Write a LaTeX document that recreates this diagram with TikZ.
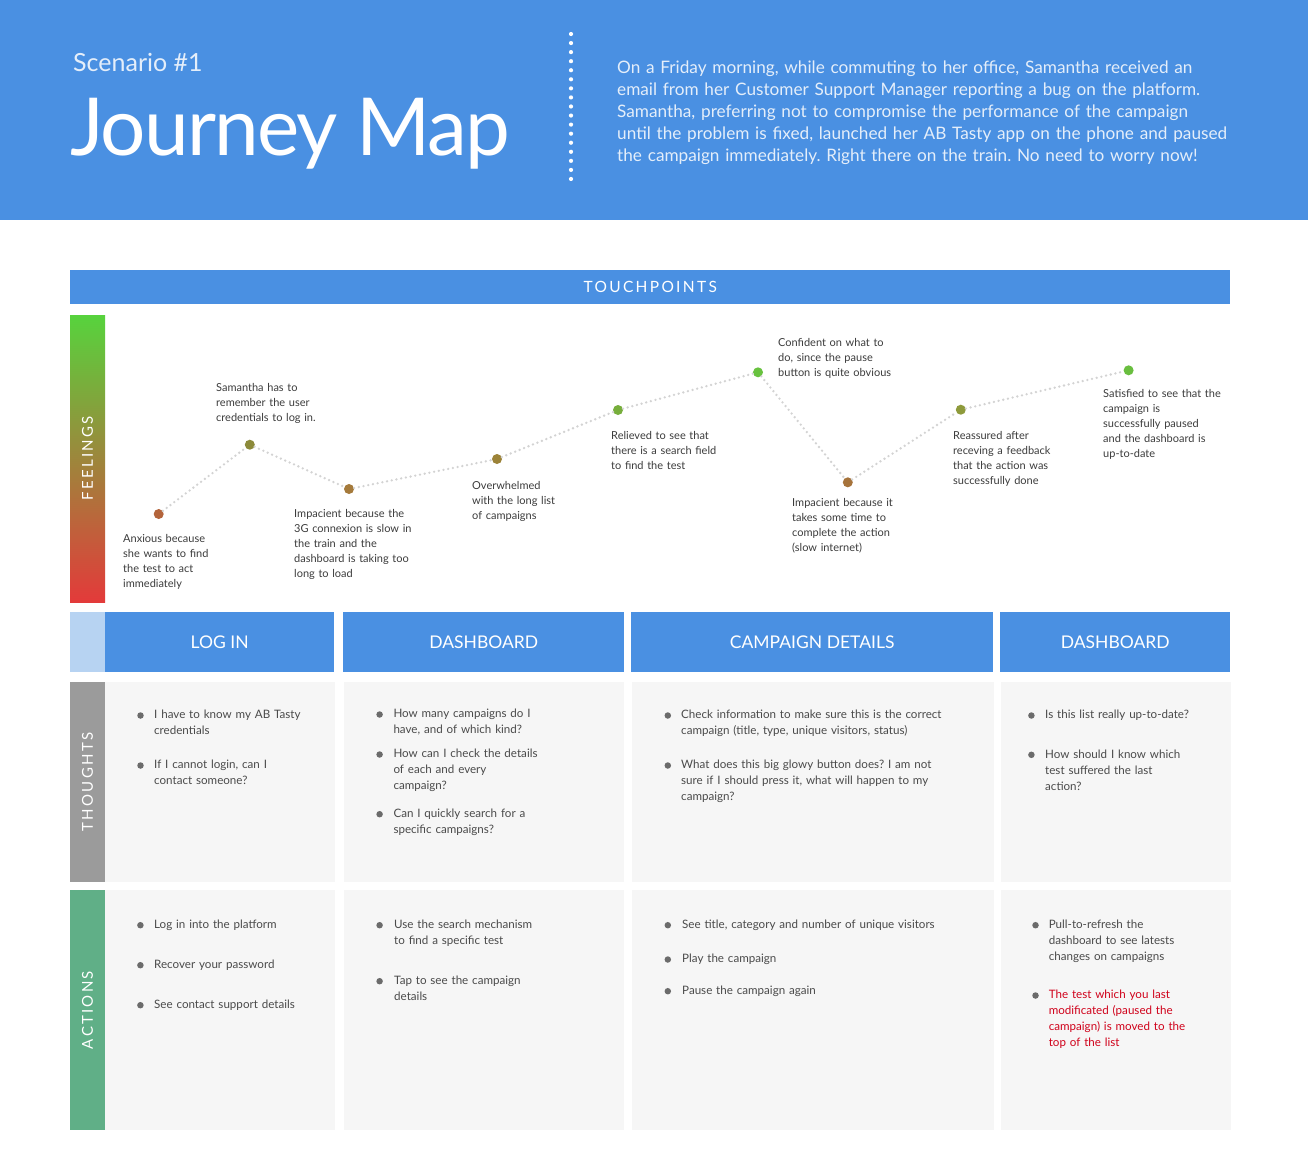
\documentclass[tikz,border=0pt]{standalone}
\usepackage{fontspec}
\setmainfont{Lato}
\newfontfamily\widelato[LetterSpace=15]{Lato}
\newfontfamily\tightlato[LetterSpace=-2.3]{Lato}

\definecolor{brandblue}{HTML}{4A90E2}
\definecolor{paleblue}{HTML}{B7D3F2}
\definecolor{cellbg}{HTML}{F6F6F6}
\definecolor{thoughtbar}{HTML}{9B9B9B}
\definecolor{actionbar}{HTML}{60AF87}
\definecolor{bodytext}{HTML}{4A4A4A}
\definecolor{feeltext}{HTML}{3C3C3C}
\definecolor{alerttext}{HTML}{D0021B}
\definecolor{introtext}{HTML}{E4EEFA}
\definecolor{pathgray}{HTML}{D3D3D3}
\definecolor{bulletgray}{HTML}{6B6B6B}
\definecolor{moodtop}{HTML}{57D33D}
\definecolor{moodmid}{HTML}{9A8336}
\definecolor{moodlow}{HTML}{E33A3A}
\definecolor{moodA}{HTML}{B3643B}
\definecolor{moodB}{HTML}{8C8A3A}
\definecolor{moodC}{HTML}{A57A3B}
\definecolor{moodD}{HTML}{9C8338}
\definecolor{moodE}{HTML}{77AE3C}
\definecolor{moodF}{HTML}{68C23F}
\definecolor{moodG}{HTML}{A6733B}
\definecolor{moodH}{HTML}{8E9A3B}
\definecolor{moodI}{HTML}{69BE3F}

\tikzset{
  colhead/.style={fill=brandblue, text=white, inner sep=0pt, anchor=north west,
    minimum height=60pt, font=\fontsize{17.5}{18}\selectfont},
  cell/.style={fill=cellbg, inner sep=0pt, anchor=north west},
  rowtag/.style={inner sep=0pt, anchor=north west, minimum width=35pt},
  tagtext/.style={text=white, rotate=90, inner sep=0pt, font=\widelato\fontsize{15}{15}\selectfont},
  mood/.style={circle, inner sep=0pt, minimum size=10pt},
  moodpath/.style={draw=pathgray, line width=2.6pt, line cap=round, dash pattern=on 0pt off 4.8pt},
  feel/.style={anchor=base west, inner sep=0pt, text width=140pt, align=left,
    text=feeltext, font=\fontsize{11}{15}\selectfont},
  itemtext/.style={anchor=base west, inner sep=0pt, text width=300pt, align=left,
    text=bodytext, font=\fontsize{11.6}{16}\selectfont},
  bullet/.style={circle, fill=bulletgray, inner sep=0pt, minimum size=6.5pt},
}

% one list entry: name, bullet x, text x, first baseline, text
\newcommand\listentry[5]{%
  \node[bullet] (#1b) at (#2,#4-3.3) {};
  \node[itemtext] (#1) at (#3,#4) {#5};
}

\begin{document}
\frenchspacing
\begin{tikzpicture}[x=1pt,y=-1pt]
\useasboundingbox (0,0) rectangle (1308,1171);
\fill[white] (0,0) rectangle (1308,1171);

% ---------- header band ----------
\fill[brandblue] (0,0) rectangle (1308,220);
\node[anchor=base west, inner sep=0pt, text=introtext, font=\fontsize{25}{25}\selectfont]
  (scenario) at (73,71.7) {Scenario \#1};
\node[anchor=base west, inner sep=0pt, text=white, font=\tightlato\fontsize{80}{80}\selectfont]
  (title) at (70,155) {Journey Map};
\coordinate (divtop) at (571,34);
\coordinate (divbot) at (571,179);
\draw[white, line width=4.2pt, line cap=round, dash pattern=on 0pt off 9.06pt] (divtop) -- (divbot);
\node[anchor=base west, inner sep=0pt, text width=640pt, align=left, text=introtext,
  font=\fontsize{17.2}{22}\selectfont] (intro) at (617,73.7)
  {On a Friday morning, while commuting to her office, Samantha received an\\
   email from her Customer Support Manager reporting a bug on the platform.\\
   Samantha, preferring not to compromise the performance of the campaign\\
   until the problem is fixed, launched her AB Tasty app on the phone and paused\\
   the campaign immediately. Right there on the train. No need to worry now!};

% ---------- touchpoints ----------
\node[fill=brandblue, inner sep=0pt, anchor=north west, minimum width=1160pt, minimum height=34pt,
  text=white, font=\widelato\fontsize{15.5}{16}\selectfont] (touch) at (70,270) {TOUCHPOINTS};

% ---------- feelings ----------
\shade[top color=moodtop, middle color=moodmid, bottom color=moodlow] (70,315) rectangle (105,602);
\node[tagtext] (feelings) at (87.5,458.5) {FEELINGS};

\node[mood, fill=moodA] (m1) at (158.7,514) {};
\node[mood, fill=moodB] (m2) at (249.8,444.7) {};
\node[mood, fill=moodC] (m3) at (349,489) {};
\node[mood, fill=moodD] (m4) at (497,459) {};
\node[mood, fill=moodE] (m5) at (618,410) {};
\node[mood, fill=moodF] (m6) at (758,372.3) {};
\node[mood, fill=moodG] (m7) at (847.8,482.3) {};
\node[mood, fill=moodH] (m8) at (960.8,409.7) {};
\node[mood, fill=moodI] (m9) at (1128.6,370.3) {};
\draw[moodpath] (m1) -- (m2) -- (m3) -- (m4) -- (m5) -- (m6) -- (m7) -- (m8) -- (m9);

\node[feel] (l1) at (123,542) {Anxious because\\she wants to find\\the test to act\\immediately};
\node[feel] (l2) at (216,391) {Samantha has to\\remember the user\\credentials to log in.};
\node[feel] (l3) at (294,517) {Impacient because the\\3G connexion is slow in\\the train and the\\dashboard is taking too\\long to load};
\node[feel] (l4) at (472,489) {Overwhelmed\\with the long list\\of campaigns};
\node[feel] (l5) at (611,439.5) {Relieved to see that\\there is a search field\\to find the test};
\node[feel] (l6) at (778,346.5) {Confident on what to\\do, since the pause\\button is quite obvious};
\node[feel] (l7) at (792,506.5) {Impacient because it\\takes some time to\\complete the action\\(slow internet)};
\node[feel] (l8) at (953,439.5) {Reassured after\\receving a feedback\\that the action was\\successfully done};
\node[feel] (l9) at (1103,397) {Satisfied to see that the\\campaign is\\successfully paused\\and the dashboard is\\up-to-date};

% ---------- stage headers ----------
\node[rowtag, fill=paleblue, minimum height=60pt] (corner) at (70,612) {};
\node[colhead, minimum width=229pt] (stage1) at (105,612) {LOG IN};
\node[colhead, minimum width=281pt] (stage2) at (343,612) {DASHBOARD};
\node[colhead, minimum width=362pt] (stage3) at (631,612) {CAMPAIGN DETAILS};
\node[colhead, minimum width=230pt] (stage4) at (1000,612) {DASHBOARD};

% ---------- thoughts row ----------
\node[rowtag, fill=thoughtbar, minimum height=200pt] (thoughtbar) at (70,682) {};
\node[tagtext] (thoughts) at (87.5,782) {THOUGHTS};
\node[cell, minimum width=230pt, minimum height=200pt] (tc1) at (105,682) {};
\node[cell, minimum width=280pt, minimum height=200pt] (tc2) at (344,682) {};
\node[cell, minimum width=362pt, minimum height=200pt] (tc3) at (632,682) {};
\node[cell, minimum width=230pt, minimum height=200pt] (tc4) at (1001,682) {};

\listentry{ta1}{140.5}{154}{718.8}{I have to know my AB Tasty\\credentials}
\listentry{ta2}{140.5}{154}{768.8}{If I cannot login, can I\\contact someone?}
\listentry{tb1}{379.6}{393.3}{717.8}{How many campaigns do I\\have, and of which kind?}
\listentry{tb2}{379.6}{393.3}{757.8}{How can I check the details\\of each and every\\campaign?}
\listentry{tb3}{379.6}{393.3}{817.5}{Can I quickly search for a\\specific campaigns?}
\listentry{tc1t}{667.8}{681}{718.8}{Check information to make sure this is the correct\\campaign (title, type, unique visitors, status)}
\listentry{tc2t}{667.8}{681}{768.8}{What does this big glowy button does? I am not\\sure if I should press it, what will happen to my\\campaign?}
\listentry{td1}{1031.4}{1045}{718.8}{Is this list really up-to-date?}
\listentry{td2}{1031.4}{1045}{758.1}{How should I know which\\test suffered the last\\action?}

% ---------- actions row ----------
\node[rowtag, fill=actionbar, minimum height=240pt] (actionbar) at (70,890) {};
\node[tagtext] (actions) at (87.5,1010) {ACTIONS};
\node[cell, minimum width=230pt, minimum height=240pt] (ac1) at (105,890) {};
\node[cell, minimum width=280pt, minimum height=240pt] (ac2) at (344,890) {};
\node[cell, minimum width=362pt, minimum height=240pt] (ac3) at (632,890) {};
\node[cell, minimum width=230pt, minimum height=240pt] (ac4) at (1001,890) {};

\listentry{aa1}{140.4}{154}{928.5}{Log in into the platform}
\listentry{aa2}{140.4}{154}{968.5}{Recover your password}
\listentry{aa3}{140.4}{154}{1008.5}{See contact support details}
\listentry{ab1}{379.6}{394}{928.5}{Use the search mechanism\\to find a specific test}
\listentry{ab2}{379.6}{394}{984.5}{Tap to see the campaign\\details}
\listentry{ac1t}{667.8}{682}{928.5}{See title, category and number of unique visitors}
\listentry{ac2t}{667.8}{682}{962.8}{Play the campaign}
\listentry{ac3t}{667.8}{682}{994.5}{Pause the campaign again}
\listentry{ad1}{1035.5}{1048.6}{928.5}{Pull-to-refresh the\\dashboard to see latests\\changes on campaigns}
\listentry{ad2}{1035.5}{1048.6}{998.8}{\color{alerttext}The test which you last\\modificated (paused the\\campaign) is moved to the\\top of the list}
\end{tikzpicture}
\end{document}
